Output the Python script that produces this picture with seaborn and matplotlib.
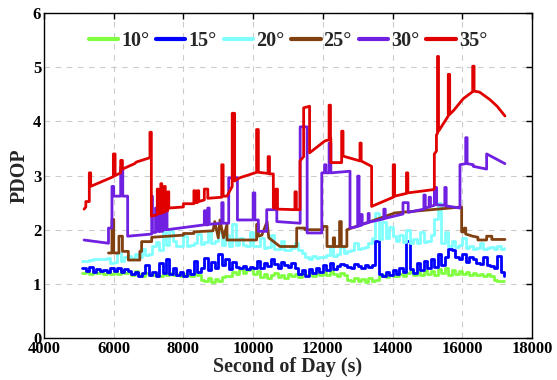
import matplotlib
matplotlib.use("Agg")
import matplotlib.pyplot as plt
import seaborn as sns

# ---------------- data ----------------
labels = ["10°", "15°", "20°", "25°", "30°", "35°"]
colors = ["#80FF40", "#0000FF", "#80FFFF", "#804010", "#7020E0", "#E00000"]

# time grid for the noisy low-mask series (s)
t_grid = list(range(5100, 17300, 100))

pdop_10 = [1.20,1.22,1.19,1.21,1.20,1.22,1.19,1.21,1.18,1.24,
           1.18,1.25,1.20,1.22,1.17,1.24,1.19,1.15,1.20,1.17,
           1.16,1.19,1.15,1.18,1.17,1.20,1.16,1.18,1.15,1.19,
           1.17,1.15,1.18,1.16,1.08,1.05,1.11,1.04,1.09,1.06,
           1.12,1.15,1.14,1.22,1.18,1.27,1.20,1.25,1.30,1.19,
           1.24,1.13,1.18,1.11,1.17,1.20,1.12,1.16,1.10,1.19,
           1.14,1.18,1.12,1.20,1.16,1.22,1.15,1.24,1.17,1.21,
           1.16,1.23,1.18,1.15,1.20,1.17,1.08,1.05,1.10,1.06,
           1.09,1.04,1.11,1.06,1.08,1.14,1.16,1.13,1.17,1.15,
           1.14,1.18,1.15,1.20,1.24,1.17,1.22,1.16,1.25,1.19,
           1.23,1.17,1.28,1.20,1.30,1.16,1.26,1.19,1.24,1.18,
           1.22,1.16,1.20,1.17,1.19,1.15,1.18,1.14,1.08,1.06,
           1.05,1.06]

pdop_15 = [1.30,1.23,1.31,1.22,1.28,1.24,1.25,1.22,1.30,1.24,
           1.29,1.21,1.28,1.24,1.18,1.22,1.15,1.20,1.35,1.17,
           1.22,1.15,1.38,1.20,1.45,1.18,1.30,1.16,1.22,1.15,
           1.25,1.18,1.42,1.22,1.30,1.48,1.25,1.40,1.30,1.55,
           1.35,1.45,1.28,1.40,1.32,1.30,1.33,1.28,1.31,1.30,
           1.42,1.30,1.38,1.33,1.45,1.36,1.30,1.40,1.34,1.32,
           1.38,1.30,1.18,1.26,1.15,1.28,1.20,1.30,1.22,1.34,
           1.25,1.38,1.28,1.33,1.36,1.35,1.32,1.30,1.36,1.33,
           1.30,1.35,1.32,1.34,1.80,1.18,1.15,1.22,1.16,1.25,
           1.18,1.30,1.22,1.80,1.28,1.20,1.38,1.25,1.42,1.30,
           1.45,1.32,1.55,1.35,1.50,1.65,1.62,1.50,1.45,1.55,
           1.40,1.50,1.45,1.38,1.36,1.50,1.34,1.33,1.30,1.52,
           1.22,1.15]

pdop_20 = [1.42,1.43,1.44,1.45,1.46,1.46,1.45,1.48,1.38,1.40,
           1.57,1.42,1.50,1.52,1.48,1.55,1.50,1.65,1.53,1.56,
           1.70,1.78,1.62,1.95,1.72,1.98,1.80,1.70,1.69,1.88,
           1.69,1.72,1.75,1.92,1.73,1.78,1.98,1.76,1.80,1.95,
           1.72,1.90,1.70,2.10,1.72,1.85,1.71,1.70,1.95,1.70,
           1.69,1.85,1.66,1.68,1.90,1.64,1.65,1.80,1.63,1.62,
           1.66,1.75,1.62,1.57,1.50,1.45,1.52,1.48,1.50,1.49,
           1.53,1.70,1.52,1.55,1.68,1.57,1.60,1.62,1.75,1.64,
           1.66,1.68,1.75,1.85,2.30,1.82,2.15,1.85,2.05,1.88,
           1.80,1.90,1.78,2.00,1.76,1.82,1.75,1.95,1.78,1.80,
           1.90,2.20,2.50,1.75,1.95,1.70,1.80,1.68,1.72,1.85,
           1.66,1.70,1.65,1.66,1.75,1.64,1.66,1.68,1.65,1.70,
           1.64,1.66]

# breakpoint series (time, PDOP)
t_25 = [5850,5950,5950,6000,6000,6150,6150,6250,6250,6420,6420,6750,6750,6800,6800,7090,
        7090,8000,8000,8300,8300,8850,8850,8900,8900,9000,9000,9050,9050,9150,9150,9250,
        9250,10100,10100,10150,10150,10250,10250,10400,10400,10450,10450,10770,10770,11250,
        11250,11490,11490,12000,12000,12120,12120,12300,12300,12340,12340,12480,12480,12530,
        12530,12690,12690,14070,15983,15983,16060,16060,16100,16100,16300,16450,16450,16700,
        16700,16850,16850,17226]
v_25 = [1.57,1.57,2.19,2.19,1.57,1.57,1.88,1.88,1.60,1.60,1.44,1.44,1.60,1.60,1.78,1.78,
        1.86,1.90,1.93,1.93,1.96,1.98,1.98,2.15,2.15,1.85,1.85,2.18,2.18,1.85,1.85,2.10,
        1.81,1.81,2.10,2.10,1.88,1.90,1.90,2.15,2.15,1.85,1.85,1.69,1.69,1.69,
        2.03,2.03,2.00,2.00,2.06,2.06,1.69,1.69,1.85,1.85,1.69,1.69,2.15,2.15,
        1.69,1.69,2.00,2.31,2.42,1.96,1.96,2.03,2.03,1.92,1.88,1.86,1.81,1.81,
        1.88,1.88,1.82,1.82]

t_30 = [5150,5850,5850,5950,5950,6000,6000,6200,6200,6260,6260,6400,6400,7090,7090,7110,
        7110,7200,7200,7230,7230,7300,7300,7330,7330,7400,7400,7430,7430,7500,7500,7530,
        7530,8600,8600,8640,8640,8700,8700,8740,8740,9100,9100,9140,9140,9300,9300,9550,
        9550,10000,10000,10050,10050,10150,10150,10390,10390,10680,10680,11350,11350,11550,
        11550,11970,11970,12050,12050,12090,12090,12180,12180,12230,12230,12780,12780,13000,
        13000,13040,13040,13100,13100,13130,13130,13300,13300,13330,13330,13750,13750,13790,
        13790,14300,14300,14450,14450,14900,14900,14940,14940,15050,15050,15090,15090,15200,
        15200,15266,15266,15500,15500,15540,15540,15935,15935,16100,16100,16140,16140,16317,
        16317,16700,16700,17226]
v_30 = [1.81,1.75,2.03,2.03,2.80,2.80,2.62,2.62,3.15,3.15,2.62,2.62,1.88,1.92,2.62,2.62,
        1.95,1.95,2.40,2.40,1.97,1.97,2.55,2.55,1.97,1.97,2.35,2.35,2.00,2.00,2.35,2.35,
        2.00,2.09,2.35,2.35,2.09,2.09,2.40,2.40,2.10,2.12,2.50,2.50,2.12,2.12,2.96,2.96,
        2.18,2.18,2.68,2.68,2.18,2.18,1.97,1.97,2.37,2.37,2.15,2.12,3.90,3.90,
        1.94,1.94,3.05,3.05,3.20,3.20,3.05,3.05,3.60,3.60,3.05,3.08,2.03,2.06,
        2.99,2.99,2.07,2.08,2.28,2.28,2.10,2.13,2.30,2.30,2.14,2.20,2.38,2.38,
        2.21,2.29,2.50,2.50,2.32,2.38,2.64,2.64,2.40,2.42,2.60,2.60,2.43,2.45,
        2.78,2.78,2.46,2.45,2.78,2.78,2.44,2.40,3.20,3.22,3.70,3.70,3.22,3.20,
        3.17,3.12,3.40,3.22]

t_35 = [5150,5200,5200,5300,5300,5340,5340,5990,5990,6040,6040,6200,6200,6250,6250,6600,
        6650,7040,7040,7080,7080,7250,7250,7280,7280,7350,7350,7380,7380,7450,7450,7480,
        7480,7550,7550,7580,7580,8000,8000,8300,8300,8340,8340,8400,8400,8440,8440,8600,
        8600,8700,8700,9100,9100,9140,9140,9250,9400,9400,9470,9470,9620,10100,10100,10150,
        10150,10430,10430,10470,10470,10580,10580,10650,10650,10700,10700,11200,11200,11240,
        11240,11345,11345,11450,11450,11620,11620,12060,12180,12180,12220,12220,12230,12230,
        12540,12540,12580,12580,13066,13066,13100,13100,13400,13400,14020,14020,14060,14060,
        14400,14400,14440,14440,15170,15200,15200,15260,15260,15290,15290,15320,15320,15600,
        15600,15640,15640,15750,16030,16300,16300,16340,16340,16500,16800,17000,17226]
v_35 = [2.38,2.42,2.52,2.52,3.05,3.05,2.80,2.98,3.40,3.40,3.00,3.05,3.28,3.28,3.12,3.22,
        3.25,3.33,3.80,3.80,2.25,2.28,2.75,2.75,2.30,2.30,2.85,2.85,2.32,2.32,2.80,2.80,
        2.35,2.35,2.70,2.70,2.40,2.42,2.48,2.48,2.72,2.72,2.50,2.50,2.72,2.72,2.52,2.55,
        2.75,2.75,2.58,2.60,3.20,3.20,2.62,2.62,2.80,4.15,4.15,2.90,2.96,3.06,3.85,3.85,
        3.06,3.04,3.35,3.35,3.03,3.03,2.40,2.40,2.75,2.75,2.38,2.37,2.70,2.70,
        2.37,2.37,3.27,3.35,4.25,4.28,3.42,3.64,3.66,4.30,4.30,3.66,3.68,3.24,
        3.24,3.82,3.82,3.36,3.27,3.60,3.60,3.27,3.17,2.43,2.60,3.20,3.20,2.62,
        2.67,3.05,3.05,2.68,2.74,2.76,3.40,3.45,3.75,3.78,5.20,5.20,3.82,4.10,
        4.87,4.87,4.13,4.20,4.42,4.55,5.02,5.02,4.56,4.54,4.40,4.28,4.10]

x_ticks = [4000, 6000, 8000, 10000, 12000, 14000, 16000, 18000]
y_ticks = [0, 1, 2, 3, 4, 5, 6]

# ---------------- style ----------------
sns.set_theme(style="white")
plt.rcParams["font.family"] = ["Liberation Serif", "DejaVu Serif"]
plt.rcParams["font.weight"] = "bold"
plt.rcParams["axes.labelweight"] = "bold"

fig = plt.figure(figsize=(5.57, 3.80), dpi=100)
ax = fig.add_axes([0.079, 0.1105, 0.876, 0.855])

series = [
    (t_grid, pdop_10),
    (t_grid, pdop_15),
    (t_grid, pdop_20),
    (t_25, v_25),
    (t_30, v_30),
    (t_35, v_35),
]
for i, ((tx, vy), lab, col) in enumerate(zip(series, labels, colors)):
    kw = dict(drawstyle="steps-post") if i < 3 else {}
    sns.lineplot(x=tx, y=vy, ax=ax, color=col, lw=2.0, label=lab,
                 estimator=None, sort=False, **kw)

ax.set_xlim(4000, 18000)
ax.set_ylim(0, 6)
ax.set_xticks(x_ticks)
ax.set_yticks(y_ticks)
ax.grid(True, linestyle=(0, (5, 5)), color="#cccccc", lw=0.8)
ax.tick_params(direction="in", top=True, right=True, length=4, width=1,
               labelsize=12, pad=2, colors="black")
for lbl in ax.get_xticklabels() + ax.get_yticklabels():
    lbl.set_fontweight("bold")
for s in ax.spines.values():
    s.set_color("black")
    s.set_linewidth(1.0)

ax.set_xlabel("Second of Day (s)", fontsize=14.5, fontweight="bold", labelpad=0)
ax.set_ylabel("PDOP", fontsize=14.5, fontweight="bold", labelpad=2)

leg = ax.legend(loc="upper center", ncol=6, frameon=False,
                prop={"family": "Liberation Serif", "weight": "bold", "size": 14.5},
                handlelength=1.45, handletextpad=0.15, columnspacing=0.35,
                borderaxespad=0.5)
for h in leg.get_lines():
    h.set_linewidth(3)

fig.savefig("out.png", dpi=100)
